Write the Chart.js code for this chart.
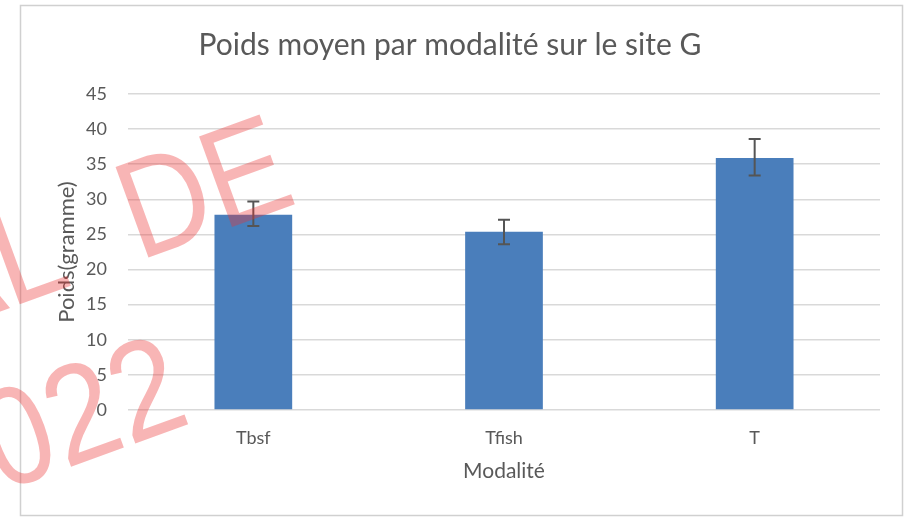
<!DOCTYPE html>
<html lang="fr">

<head>
    <meta charset="UTF-8">
    <title>Poids moyen par modalité</title>
    <script src="https://cdn.jsdelivr.net/npm/chart.js"></script>
    <style>
        html, body {
            margin: 0;
            padding: 0;
            background: #ffffff;
        }

        #chartBox {
            width: 912px;
            height: 518px;
        }
    </style>
</head>

<body>
    <div id="chartBox">
        <canvas id="poidsChart"></canvas>
    </div>

    <script>
        // valeurs
        const modalites = ['Tbsf', 'Tfish', 'T'];
        const poidsMoyen = [27.8, 25.4, 35.9];
        const erreurHaut = [29.7, 27.1, 38.6];
        const erreurBas = [26.2, 23.6, 33.4];
        const graduations = [0, 5, 10, 15, 20, 25, 30, 35, 40, 45];

        const texte = '#595959';
        const police = 'Lato, "Open Sans", sans-serif';

        // cadre gris autour du graphique
        const cadre = {
            id: 'cadre',
            beforeDraw(chart) {
                const ctx = chart.ctx;
                ctx.save();
                ctx.strokeStyle = '#d0d0d0';
                ctx.lineWidth = 1.5;
                ctx.strokeRect(20.5, 5.5, 882, 510);
                ctx.restore();
            }
        };

        // barres d'erreur
        const barresErreur = {
            id: 'barresErreur',
            afterDatasetsDraw(chart) {
                const ctx = chart.ctx;
                const y = chart.scales.y;
                const meta = chart.getDatasetMeta(0);
                ctx.save();
                ctx.strokeStyle = '#555555';
                ctx.lineWidth = 2;
                meta.data.forEach((bar, i) => {
                    const haut = y.getPixelForValue(erreurHaut[i]);
                    const bas = y.getPixelForValue(erreurBas[i]);
                    ctx.beginPath();
                    ctx.moveTo(bar.x, haut);
                    ctx.lineTo(bar.x, bas);
                    ctx.moveTo(bar.x - 6, haut);
                    ctx.lineTo(bar.x + 6, haut);
                    ctx.moveTo(bar.x - 6, bas);
                    ctx.lineTo(bar.x + 6, bas);
                    ctx.stroke();
                });
                ctx.restore();
            }
        };

        // filigrane rouge
        const filigrane = {
            id: 'filigrane',
            afterDraw(chart) {
                const ctx = chart.ctx;
                const angle = -20 * Math.PI / 180;
                ctx.save();
                ctx.fillStyle = 'rgba(235, 50, 50, 0.36)';
                ctx.font = '140px "Liberation Sans", sans-serif';
                ctx.textBaseline = 'alphabetic';
                ctx.textAlign = 'left';

                ctx.save();
                ctx.translate(139, 261);
                ctx.rotate(angle);
                ctx.scale(0.88, 1);
                ctx.fillText('AL  DE', -ctx.measureText('AL  ').width, 0);
                ctx.restore();

                ctx.save();
                ctx.translate(194, 422);
                ctx.rotate(angle);
                ctx.scale(0.88, 1);
                ctx.textAlign = 'right';
                ctx.fillText('2022', 0, 0);
                ctx.restore();

                ctx.restore();
            }
        };

        new Chart(document.getElementById('poidsChart'), {
            type: 'bar',
            data: {
                labels: modalites,
                datasets: [{
                    label: 'Poids moyen',
                    data: poidsMoyen,
                    backgroundColor: '#4a7ebb',
                    borderWidth: 0,
                    categoryPercentage: 1,
                    barPercentage: 0.31
                }]
            },
            options: {
                responsive: true,
                maintainAspectRatio: false,
                animation: false,
                layout: {
                    padding: { left: 20, right: 32, top: 0, bottom: 0 }
                },
                plugins: {
                    legend: { display: false },
                    tooltip: { enabled: false },
                    title: {
                        display: true,
                        text: 'Poids moyen par modalité sur le site G',
                        color: texte,
                        font: { family: police, size: 30, weight: 'normal' },
                        padding: { top: 27, bottom: 31 }
                    }
                },
                scales: {
                    x: {
                        grid: { display: false, drawTicks: false },
                        border: { display: false },
                        ticks: {
                            color: texte,
                            font: { family: police, size: 18 },
                            padding: 17
                        },
                        title: {
                            display: true,
                            text: 'Modalité',
                            color: texte,
                            font: { family: police, size: 21 },
                            padding: { top: 10, bottom: 34 }
                        },
                        afterFit(scale) {
                            scale.height = 108;
                        }
                    },
                    y: {
                        min: 0,
                        max: 45,
                        afterBuildTicks(scale) {
                            scale.ticks = graduations.map(v => ({ value: v }));
                        },
                        grid: {
                            color: '#d9d9d9',
                            lineWidth: 1.5,
                            drawTicks: false
                        },
                        border: { display: false },
                        ticks: {
                            color: texte,
                            font: { family: police, size: 18 },
                            padding: 21
                        },
                        title: {
                            display: true,
                            text: 'Poids(gramme)',
                            color: texte,
                            font: { family: police, size: 22 },
                            padding: { top: 34, bottom: 0 }
                        },
                        afterFit(scale) {
                            scale.width = 108;
                        }
                    }
                }
            },
            plugins: [cadre, barresErreur, filigrane]
        });
    </script>
</body>

</html>
